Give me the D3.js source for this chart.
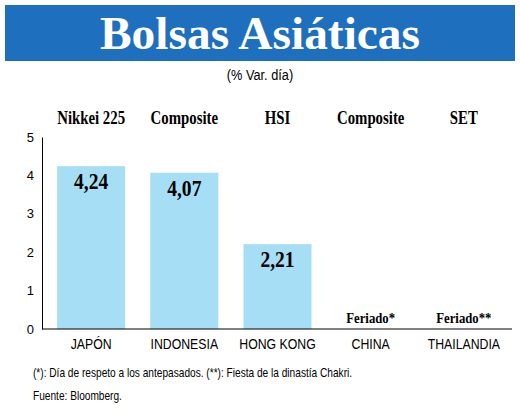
<!DOCTYPE html><html><head><meta charset="utf-8"><script src="https://cdn.jsdelivr.net/npm/d3@7"></script>
<style>body{margin:0;background:#fff}</style></head><body><svg width="520" height="415"></svg>
<script>
const countries=["JAPÓN","INDONESIA","HONG KONG","CHINA","THAILANDIA"];
const indices=["Nikkei 225","Composite","HSI","Composite","SET"];
const values=[4.24,4.07,2.21,null,null];
const valueLabels=["4,24","4,07","2,21","Feriado*","Feriado**"];
const ticks=[0,1,2,3,4,5];
const svg=d3.select("svg");
const cond="'Liberation Sans','DejaVu Sans',sans-serif";
const serif="'Liberation Serif','DejaVu Serif',serif";
function squeeze(sel,k){sel.each(function(){const t=d3.select(this);const cx=+t.attr("x")||0;t.attr("transform",(t.attr("transform")||"")+` translate(${cx},0) scale(${k},1) translate(${-cx},0)`);});}
svg.append("rect").attr("x",5).attr("y",5).attr("width",510).attr("height",56).attr("fill","#1f6fbf");
svg.append("text").attr("x",260).attr("y",49).attr("text-anchor","middle").attr("fill","#fff").attr("font-family",serif).attr("font-weight","bold").attr("font-size",46).attr("textLength",320).attr("lengthAdjust","spacingAndGlyphs").text("Bolsas Asiáticas");
squeeze(svg.append("text").attr("x",260).attr("y",80).attr("text-anchor","middle").attr("font-family",cond).attr("font-size",15).text("(% Var. día)"),0.85);
const x=d3.scaleBand().domain(countries).range([45,510]).paddingInner(0.27).paddingOuter(0.13);
const y=d3.scaleLinear().domain([0,5]).range([329,137]);
svg.selectAll(".bar").data(countries.filter((c,i)=>values[i]!=null)).join("rect").attr("x",d=>x(d)).attr("width",x.bandwidth()).attr("y",(d,i)=>y(values[i])).attr("height",(d,i)=>y(0)-y(values[i])).attr("fill","#a6def5");
const ya=svg.append("g").attr("transform","translate(42,0)").call(d3.axisLeft(y).tickValues(ticks).tickFormat(d3.format("d")).tickSize(0).tickPadding(8));
ya.select(".domain").attr("stroke","#000");
ya.selectAll("text").attr("font-family",cond).attr("font-size",13);
const xa=svg.append("g").attr("transform","translate(0,329)").call(d3.axisBottom(x).tickSize(0).tickPadding(9));
xa.select(".domain").attr("stroke","#000").attr("d","M42,0H512");
xa.selectAll("text").attr("font-family",cond).attr("font-size",15).attr("fill","#000").attr("transform","scale(0.82,1)");
countries.forEach((c,i)=>{
 const cx=x(c)+x.bandwidth()/2;
 squeeze(svg.append("text").attr("x",cx).attr("y",124).attr("text-anchor","middle").attr("font-family",serif).attr("font-weight","bold").attr("font-size",19).text(indices[i]),0.78);
 const v=values[i];
 squeeze(svg.append("text").attr("x",cx).attr("y",v!=null?y(v)+23:323).attr("text-anchor","middle").attr("font-family",serif).attr("font-weight","bold").attr("font-size",v!=null?23:15).text(valueLabels[i]),0.85);
});
squeeze(svg.append("text").attr("x",33).attr("y",377).attr("font-family",cond).attr("font-size",13).text("(*): Día de respeto a los antepasados. (**): Fiesta de la dinastía Chakri."),0.78);
squeeze(svg.append("text").attr("x",33).attr("y",400).attr("font-family",cond).attr("font-size",13).text("Fuente: Bloomberg."),0.78);
</script></body></html>
